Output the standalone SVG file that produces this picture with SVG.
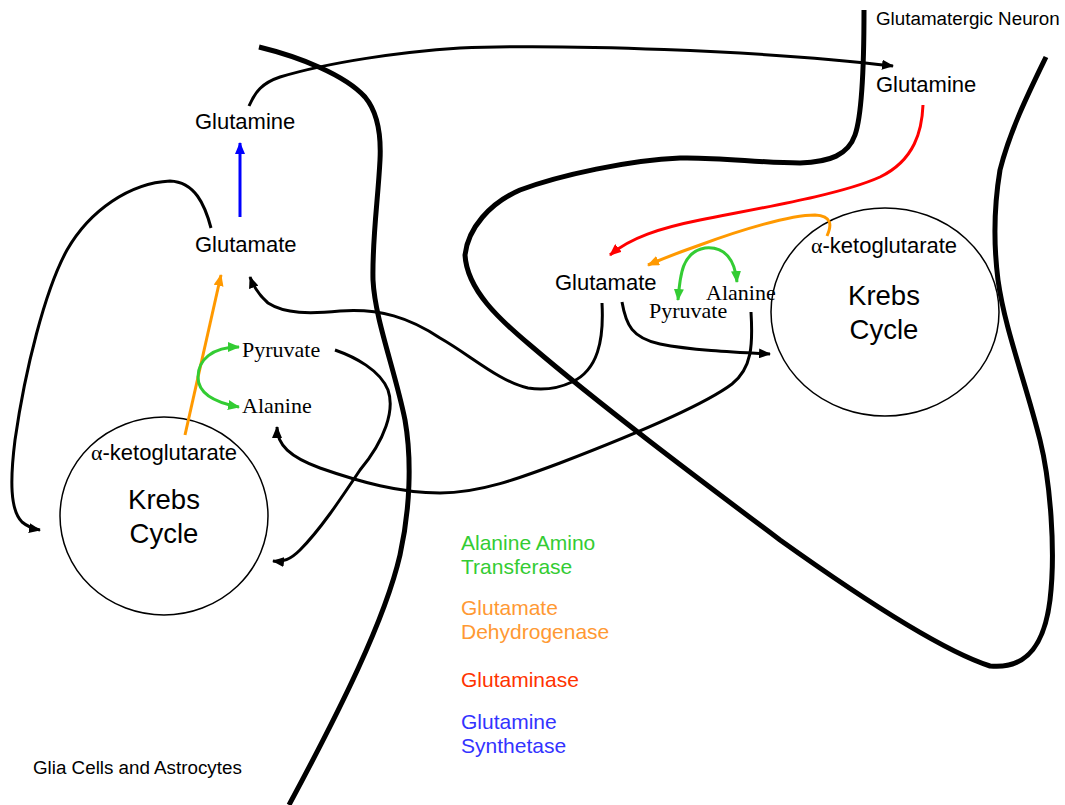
<svg xmlns="http://www.w3.org/2000/svg" width="1065" height="805" viewBox="0 0 1065 805">
<style>
.mem{fill:none;stroke:#000;stroke-width:5;stroke-linecap:butt}
.con{fill:none;stroke:#000;stroke-width:3}
.cyc{fill:none;stroke:#000;stroke-width:1.5}
.g{fill:none;stroke:#33cc33;stroke-width:3}
.o{fill:none;stroke:#ff9900;stroke-width:3}
.r{fill:none;stroke:#ff0000;stroke-width:3}
.b{fill:none;stroke:#0000ff;stroke-width:3}
text{font-family:"Liberation Sans",Arial,sans-serif;fill:#000}
.sans{font-size:22px}
.serif{font-family:"Liberation Serif","Times New Roman",serif;font-size:22px}
.krebs{font-size:27.5px;text-anchor:middle}
.small{font-size:18.8px}
.leg{font-size:21px}
</style>
<defs>
<marker id="ak" markerUnits="userSpaceOnUse" markerWidth="12" markerHeight="10" refX="11" refY="5" orient="auto"><path d="M0,0 L12,5 L0,10 Z" fill="#000"/></marker>
<marker id="ag" markerUnits="userSpaceOnUse" markerWidth="12" markerHeight="10" refX="11" refY="5" orient="auto-start-reverse"><path d="M0,0 L12,5 L0,10 Z" fill="#33cc33"/></marker>
<marker id="ao" markerUnits="userSpaceOnUse" markerWidth="12" markerHeight="10" refX="11" refY="5" orient="auto"><path d="M0,0 L12,5 L0,10 Z" fill="#ff9900"/></marker>
<marker id="ar" markerUnits="userSpaceOnUse" markerWidth="12" markerHeight="10" refX="11" refY="5" orient="auto"><path d="M0,0 L12,5 L0,10 Z" fill="#ff0000"/></marker>
<marker id="ab" markerUnits="userSpaceOnUse" markerWidth="12" markerHeight="10" refX="11" refY="5" orient="auto"><path d="M0,0 L12,5 L0,10 Z" fill="#0000ff"/></marker>
</defs>
<rect width="1065" height="805" fill="#fff"/>

<g id="membranes">
<path class="mem" d="M259,47 C300,57 345,75 365,97 C380,115 381,140 380,160 C378,200 372,240 373,280 C375,320 395,370 405,420 C412,460 410,510 400,555 C385,620 340,710 289,805"/>
<path class="mem" d="M864,10 C864,70 862,115 855,135 C848,155 830,162 800,163 C760,163 720,157 680,158 C630,160 560,175 520,190 C490,203 468,228 465,255 C467,290 500,320 530,345 C600,405 700,480 780,540 C850,590 940,650 990,666 C1030,670 1045,640 1050,600 C1056,550 1050,480 1040,440 C1025,380 1005,330 998,280 C993,240 995,200 1000,170 C1010,130 1030,90 1046,57"/>
</g>

<g id="glia-krebs">
<ellipse class="cyc" cx="164" cy="516" rx="104" ry="99"/>
<text class="krebs" x="164" y="509">Krebs</text>
<text class="krebs" x="164" y="543">Cycle</text>
</g>
<g id="neuron-krebs">
<ellipse class="cyc" cx="885" cy="312" rx="114" ry="104"/>
<text class="krebs" x="884" y="305">Krebs</text>
<text class="krebs" x="884" y="339">Cycle</text>
</g>

<g id="connectors">
<path class="con" marker-end="url(#ak)" d="M249,106 C255,92 262,83 280,77 C330,62 400,52 460,48 C560,44 760,50 893,66"/>
<path class="con" marker-end="url(#ak)" d="M211,228 C205,205 195,182 170,181 C130,183 90,210 67,250 C45,290 25,370 15,440 C10,480 10,510 22,522 C28,527 34,529 40,530"/>
<path class="con" marker-end="url(#ak)" d="M602,303 C604,340 598,370 572,382 C555,390 540,390 528,388 C500,382 470,355 440,338 C410,318 380,308 340,311 C310,314 285,314 268,303 C260,296 254,288 250,277"/>
<path class="con" marker-end="url(#ak)" d="M622,302 C626,325 632,338 660,344 C690,350 730,352 770,354"/>
<path class="con" marker-end="url(#ak)" d="M751,312 C753,345 752,368 732,384 C700,408 620,440 560,463 C520,478 480,493 440,493 C400,493 360,482 320,468 C290,457 277,445 277,427"/>
<path class="con" marker-end="url(#ak)" d="M335,350 C355,357 380,370 388,390 C395,410 385,440 360,470 C340,500 320,530 300,550 C290,560 283,562 273,561"/>
<path class="b" marker-end="url(#ab)" d="M240,217 L240,143"/>
<path class="o" marker-end="url(#ao)" d="M185,435 L221,275"/>
<path class="g" marker-start="url(#ag)" marker-end="url(#ag)" d="M239,407 C212,402 198,392 198,377 C198,360 212,347 239,347"/>
<path class="r" marker-end="url(#ar)" d="M923,105 C922,130 915,160 880,177 C840,195 760,208 700,220 C660,228 630,238 610,255"/>
<path class="o" marker-end="url(#ao)" d="M827,236 C832,225 832,216 815,215 C790,215 740,230 700,245 C680,252 662,259 648,265"/>
<path class="g" marker-start="url(#ag)" marker-end="url(#ag)" d="M678,300 C680,275 682,252 705,248 C725,246 735,260 737,282"/>
</g>

<g id="glia-glutamine"><text class="sans" x="195" y="129">Glutamine</text></g>
<g id="glia-glutamate"><text class="sans" x="195" y="252">Glutamate</text></g>
<g id="glia-pyruvate"><text class="serif" x="242" y="357">Pyruvate</text></g>
<g id="glia-alanine"><text class="serif" x="242" y="413">Alanine</text></g>
<g id="glia-akg"><text class="sans" x="91" y="460"><tspan font-family="'Liberation Serif',serif">α</tspan>-ketoglutarate</text></g>

<g id="neuron-title"><text class="small" x="876" y="25">Glutamatergic Neuron</text></g>
<g id="neuron-glutamine"><text class="sans" x="876" y="92">Glutamine</text></g>
<g id="neuron-glutamate"><text class="sans" x="555" y="290">Glutamate</text></g>
<g id="neuron-alanine"><text class="serif" x="706" y="300" font-size="21">Alanine</text></g>
<g id="neuron-pyruvate"><text class="serif" x="649" y="318" font-size="21">Pyruvate</text></g>
<g id="neuron-akg"><text class="sans" x="811" y="253"><tspan font-family="'Liberation Serif',serif">α</tspan>-ketoglutarate</text></g>

<g id="glia-title"><text class="small" x="33" y="774">Glia Cells and Astrocytes</text></g>

<g id="legend">
<text class="leg" x="461" y="550" style="fill:#33cc33">Alanine Amino<tspan x="461" dy="23.5">Transferase</tspan></text>
<text class="leg" x="461" y="615" style="fill:#ff9933">Glutamate<tspan x="461" dy="23.5">Dehydrogenase</tspan></text>
<text class="leg" x="461" y="687" style="fill:#ff3300">Glutaminase</text>
<text class="leg" x="461" y="729" style="fill:#3333ff">Glutamine<tspan x="461" dy="23.5">Synthetase</tspan></text>
</g>
</svg>
